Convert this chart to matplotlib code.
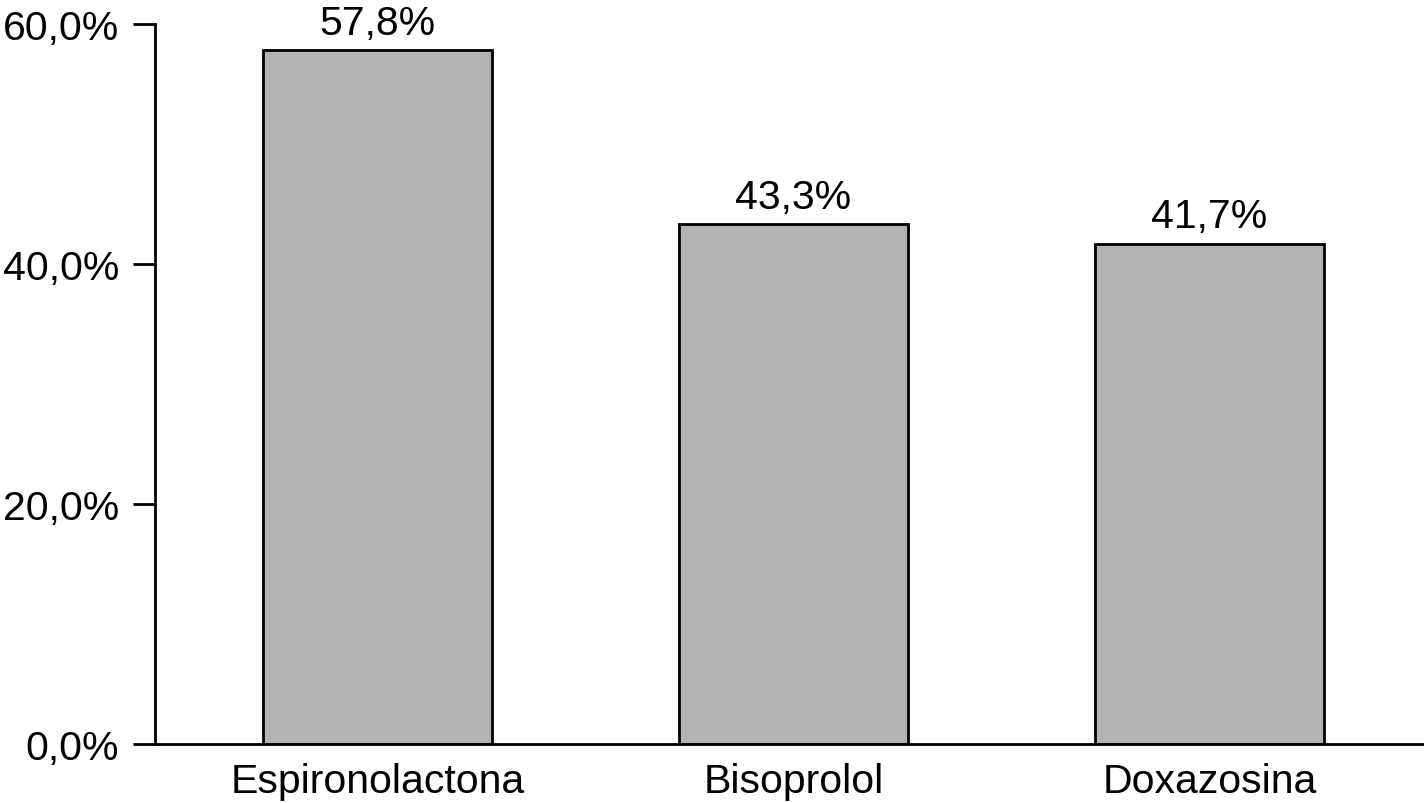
import matplotlib
matplotlib.use("Agg")
import matplotlib.pyplot as plt

categories = ["Espironolactona", "Bisoprolol", "Doxazosina"]
values = [57.8, 43.3, 41.7]
yticks = [0, 20, 40, 60]
ytick_labels = ["0,0%", "20,0%", "40,0%", "60,0%"]

plt.rcParams["font.family"] = ["Liberation Sans", "DejaVu Sans"]

fig = plt.figure(figsize=(14.24, 8.04), dpi=100)
ax = fig.add_axes([155 / 1424, 59 / 804, 1 - 155 / 1424, 720 / 804])

x = list(range(len(categories)))
ax.bar(x, values, width=0.55, color="#b3b3b3", edgecolor="black", linewidth=2.0, zorder=2)

for xi, v in zip(x, values):
    ax.text(xi, v + 0.7, f"{v:.1f}%".replace(".", ","), ha="center", va="bottom", fontsize=29.5)

ax.set_xlim(-0.535, 2.516)
ax.set_ylim(0, 60)
ax.set_yticks(yticks)
ax.set_yticklabels(ytick_labels, fontsize=29.5)
ax.set_xticks(x)
ax.set_xticklabels(categories, fontsize=29.5)

ax.spines["top"].set_visible(False)
ax.spines["right"].set_visible(False)
ax.spines["left"].set_linewidth(2.0)
ax.spines["bottom"].set_linewidth(2.0)
ax.spines["left"].set_zorder(3)
ax.spines["bottom"].set_zorder(3)
ax.tick_params(axis="y", length=16, width=2.0, pad=10)
ax.tick_params(axis="x", length=0, pad=13)

fig.savefig("out.png", dpi=100)
